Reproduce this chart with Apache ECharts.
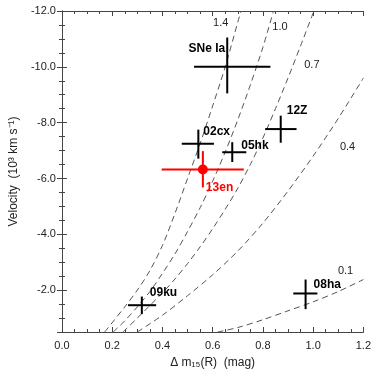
<!DOCTYPE html>
<html>
<head>
<meta charset="utf-8">
<script src="https://cdn.jsdelivr.net/npm/echarts@6/dist/echarts.min.js"></script>
<style>
  html, body { margin: 0; padding: 0; background: #fff; }
  #chart { width: 374px; height: 374px; }
</style>
</head>
<body>
<div id="chart"></div>
<script>
// supernovae: centre, error bar ends
var snNames = ['SNe Ia', '02cx', '05hk', '12Z', '09ku', '08ha', '13en'];
var snDm15  = [0.658, 0.543, 0.678, 0.871, 0.318, 0.970, 0.561];
var snVel   = [-10.0, -7.24, -6.94, -7.77, -1.46, -1.88, -6.32];
var snDmLo  = [0.526, 0.477, 0.638, 0.809, 0.263, 0.921, 0.397];
var snDmHi  = [0.830, 0.605, 0.734, 0.934, 0.375, 1.017, 0.724];
var snVLo   = [-11.05, -7.75, -7.30, -8.25, -1.77, -2.38, -6.98];
var snVHi   = [-9.05, -6.71, -6.59, -7.28, -1.14, -1.32, -5.68];

// model curves (ejecta mass)
var curveNames = ['1.4', '1.0', '0.7', '0.4', '0.1'];
var curve14 = [[0.17,-0.5],[0.25,-1.4],[0.30,-2.0],[0.35,-2.7],[0.40,-3.6],[0.45,-4.75],[0.50,-6.0],[0.55,-7.25],[0.60,-8.6],[0.65,-10.0],[0.70,-11.6],[0.713,-12.0]];
var curve10 = [[0.204,-0.5],[0.25,-0.9],[0.30,-1.4],[0.35,-1.95],[0.40,-2.6],[0.45,-3.3],[0.50,-4.1],[0.55,-4.95],[0.60,-5.9],[0.65,-6.95],[0.70,-8.1],[0.75,-9.35],[0.80,-10.7],[0.842,-12.0]];
var curve07 = [[0.243,-0.5],[0.30,-1.0],[0.35,-1.45],[0.40,-1.9],[0.45,-2.4],[0.50,-2.95],[0.55,-3.55],[0.60,-4.2],[0.65,-4.9],[0.70,-5.65],[0.75,-6.5],[0.80,-7.45],[0.85,-8.5],[0.90,-9.6],[0.95,-10.75],[1.003,-12.0]];
var curve04 = [[0.30,-0.5],[0.40,-1.1],[0.50,-1.8],[0.60,-2.55],[0.70,-3.4],[0.80,-4.4],[0.90,-5.55],[1.00,-6.8],[1.10,-8.15],[1.20,-9.6]];
var curve01 = [[0.62,-0.5],[0.70,-0.66],[0.80,-0.94],[0.90,-1.26],[1.00,-1.58],[1.10,-1.95],[1.20,-2.38]];
var curveLabelAt = [[0.632,-11.57],[0.868,-11.43],[0.995,-10.08],[1.137,-7.13],[1.129,-2.7]];

var FONT = '"Liberation Sans", Arial, Helvetica, sans-serif';

var snData = snNames.map(function (n, i) {
    return [snDm15[i], snVel[i], snDmLo[i], snDmHi[i], snVLo[i], snVHi[i]];
});

// where each name sits relative to the cross centre (px)
var labelShift = {
    'SNe Ia': [-2, -18, 'right'],
    '02cx': [5, -12, 'left'],
    '05hk': [9, -7, 'left'],
    '12Z': [6, -18, 'left'],
    '09ku': [8, -13, 'left'],
    '08ha': [8, -9, 'left'],
    '13en': [3, 18, 'left']
};

var curveSeries = [curve14, curve10, curve07, curve04, curve01].map(function (c) {
    return {
        type: 'line',
        data: c,
        smooth: 0.3,
        symbol: 'none',
        silent: true,
        lineStyle: { color: '#555', width: 1, type: [6, 4] },
        z: 1
    };
});

var myChart = echarts.init(document.getElementById('chart'));

var axisCommon = {
    axisLine: { show: true, lineStyle: { color: '#444', width: 1 } },
    axisTick: { show: true, inside: true, length: 5, lineStyle: { color: '#444' } },
    minorTick: { show: true, splitNumber: 4, length: 3, lineStyle: { color: '#444' } },
    splitLine: { show: false },
    minorSplitLine: { show: false }
};

myChart.setOption({
    animation: false,
    backgroundColor: '#fff',
    grid: { left: 60, top: 11, right: 10, bottom: 42 },
    xAxis: [
        Object.assign({
            type: 'value', min: 0, max: 1.2, interval: 0.2, position: 'bottom',
            name: 'Δ m\u2081\u2085(R)  (mag)', nameLocation: 'middle', nameGap: 25,
            nameTextStyle: { fontFamily: FONT, fontSize: 12, color: '#222' },
            axisLabel: {
                fontFamily: FONT, fontSize: 11, color: '#222', margin: 8,
                formatter: function (v) { return v.toFixed(1); }
            }
        }, axisCommon),
        Object.assign({
            type: 'value', min: 0, max: 1.2, interval: 0.2, position: 'top',
            axisLabel: { show: false }
        }, axisCommon)
    ],
    yAxis: [
        Object.assign({
            type: 'value', min: -12, max: -0.5, interval: 2, inverse: true,
            name: 'Velocity  (10\u00b3 km s\u207b\u00b9)', nameLocation: 'middle', nameGap: 39,
            nameRotate: 90,
            nameTextStyle: { fontFamily: FONT, fontSize: 12, color: '#222' },
            axisLabel: {
                fontFamily: FONT, fontSize: 11, color: '#222', margin: 6, showMaxLabel: false,
                formatter: function (v) { return v.toFixed(1); }
            }
        }, axisCommon),
        Object.assign({
            type: 'value', min: -12, max: -0.5, interval: 2, inverse: true, position: 'right',
            axisLabel: { show: false }
        }, axisCommon)
    ],
    series: curveSeries.concat([
        {
            // mass labels on the curves
            type: 'custom',
            silent: true,
            data: curveLabelAt,
            renderItem: function (params, api) {
                var p = api.coord([api.value(0), api.value(1)]);
                return {
                    type: 'text', x: p[0], y: p[1],
                    style: {
                        text: curveNames[params.dataIndex], fill: '#222',
                        font: '11px ' + FONT, textAlign: 'center', textVerticalAlign: 'middle'
                    }
                };
            },
            z: 3
        },
        {
            // error-bar crosses
            type: 'custom',
            silent: true,
            data: snData,
            renderItem: function (params, api) {
                var name = snNames[params.dataIndex];
                var c = api.coord([api.value(0), api.value(1)]);
                var l = api.coord([api.value(2), api.value(1)]);
                var r = api.coord([api.value(3), api.value(1)]);
                var t = api.coord([api.value(0), api.value(4)]);
                var b = api.coord([api.value(0), api.value(5)]);
                var red = name === '13en';
                var col = red ? '#f00' : '#000';
                var kids = [
                    { type: 'line', shape: { x1: l[0], y1: l[1], x2: r[0], y2: r[1] }, style: { stroke: col, lineWidth: 2 } },
                    { type: 'line', shape: { x1: t[0], y1: t[1], x2: b[0], y2: b[1] }, style: { stroke: col, lineWidth: 2 } }
                ];
                if (red) {
                    kids.push({ type: 'circle', shape: { cx: c[0], cy: c[1], r: 5 }, style: { fill: col } });
                }
                var s = labelShift[name];
                kids.push({
                    type: 'text', x: c[0] + s[0], y: c[1] + s[1],
                    style: {
                        text: name, fill: col, font: 'bold 12px ' + FONT,
                        textAlign: s[2], textVerticalAlign: 'middle'
                    }
                });
                return { type: 'group', children: kids };
            },
            z: 5
        }
    ])
});
</script>
</body>
</html>
